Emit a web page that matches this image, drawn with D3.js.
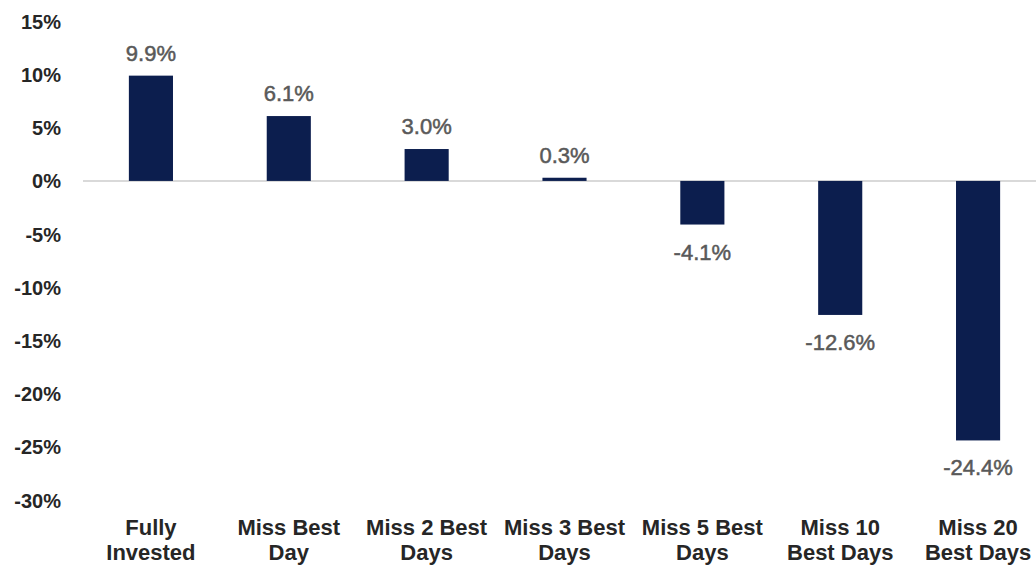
<!DOCTYPE html>
<html>
<head>
<meta charset="utf-8">
<script src="https://cdn.jsdelivr.net/npm/d3@7"></script>
<style>
  html, body { margin: 0; padding: 0; background: #fff; }
  svg { display: block; font-family: "Liberation Sans", Arial, sans-serif; }
</style>
</head>
<body>
<svg id="chart" width="1036" height="567"></svg>
<script>
// Annualized return scenarios
const categories = [
  ["Fully", "Invested"],
  ["Miss Best", "Day"],
  ["Miss 2 Best", "Days"],
  ["Miss 3 Best", "Days"],
  ["Miss 5 Best", "Days"],
  ["Miss 10", "Best Days"],
  ["Miss 20", "Best Days"]
];
const values = [9.9, 6.1, 3.0, 0.3, -4.1, -12.6, -24.4];
const yTicks = [15, 10, 5, 0, -5, -10, -15, -20, -25, -30];

const svg = d3.select("#chart");
const keys = categories.map(c => c.join(" "));

const x = d3.scaleBand()
  .domain(keys)
  .range([82, 1047])
  .paddingInner(0.68)
  .paddingOuter(0.34);

const y = d3.scaleLinear()
  .domain([-30, 15])
  .range([500, 21.4]);

// y-axis labels (no axis line or ticks)
const yAxis = d3.axisLeft(y)
  .tickValues(yTicks)
  .tickFormat(d => d + "%")
  .tickSize(0)
  .tickPadding(0);

const yg = svg.append("g")
  .attr("transform", "translate(61,0)")
  .call(yAxis);
yg.select(".domain").remove();
yg.selectAll("text")
  .attr("font-size", 20)
  .attr("font-weight", "bold")
  .attr("fill", "#262626")
  .attr("font-family", "'Liberation Sans', Arial, sans-serif")
  .attr("dy", "0.35em");

// zero baseline
svg.append("line")
  .attr("x1", 83).attr("x2", 1036)
  .attr("y1", y(0)).attr("y2", y(0))
  .attr("stroke", "#d9d9d9")
  .attr("stroke-width", 2);

// bars
svg.selectAll("rect.bar")
  .data(values)
  .join("rect")
  .attr("class", "bar")
  .attr("x", (d, i) => x(keys[i]))
  .attr("width", x.bandwidth())
  .attr("y", d => y(Math.max(0, d)))
  .attr("height", d => Math.abs(y(d) - y(0)))
  .attr("fill", "#0c1e4e");

// value labels
svg.selectAll("text.val")
  .data(values)
  .join("text")
  .attr("class", "val")
  .attr("x", (d, i) => x(keys[i]) + x.bandwidth() / 2)
  .attr("y", d => d >= 0 ? y(d) - 15 : y(d) + 35)
  .attr("text-anchor", "middle")
  .attr("font-size", 22)
  .attr("fill", "#595959")
  .attr("stroke", "#595959")
  .attr("stroke-width", 0.5)
  .text(d => d.toFixed(1) + "%");

// category labels, two lines each
const cat = svg.selectAll("text.cat")
  .data(categories)
  .join("text")
  .attr("class", "cat")
  .attr("text-anchor", "middle")
  .attr("font-size", 22)
  .attr("font-weight", "bold")
  .attr("fill", "#262626");
cat.each(function(lines, i) {
  const cx = x(keys[i]) + x.bandwidth() / 2;
  d3.select(this).selectAll("tspan")
    .data(lines)
    .join("tspan")
    .attr("x", cx)
    .attr("y", (d, j) => 535 + j * 25)
    .text(d => d);
});
</script>
</body>
</html>
